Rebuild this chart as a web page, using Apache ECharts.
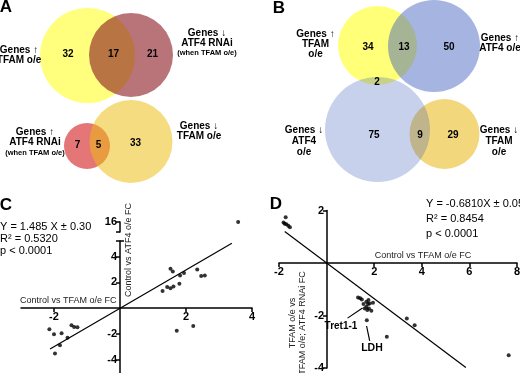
<!DOCTYPE html>
<html>
<head>
<meta charset="utf-8">
<script src="https://cdn.jsdelivr.net/npm/echarts@6/dist/echarts.min.js"></script>
<style>
  html, body { margin: 0; padding: 0; background: #fff; }
  #app { width: 520px; height: 373px; }
</style>
</head>
<body>
<div id="app"></div>
<script>
// Venn counts: [left only, overlap, right only]
const vennATop = [32, 17, 21];
const vennABottom = [7, 5, 33];
const vennBTop = [34, 13, 50];
const vennBBottom = [75, 9, 29];
const vennBCross = [2];

// Panel C: Control vs TFAM o/e FC (x), Control vs ATF4 o/e FC (y)
const cPoints = [
  [-2.14, -1.62], [-2.0, -2.0], [-1.97, -3.49], [-1.82, -2.85], [-1.77, -1.92],
  [-1.59, -2.28], [-1.47, -1.31], [-1.39, -1.44], [-1.29, -1.46],
  [1.29, 1.33], [1.43, 1.64], [1.53, 1.54], [1.62, 1.69], [1.53, 3.05], [1.6, 2.85],
  [1.8, 1.9], [1.82, 2.54], [1.94, 2.72], [2.34, 3.0], [2.46, 2.49], [2.57, 2.54],
  [1.72, -1.74], [2.22, -1.36]
];
const cOutlier = [[3.58, 16]];
const cFit = [[-2.12, -3.15], [3.39, 5.03]];
const cXTicks = [-2, 2, 4];
const cYTicks = [-4, -2, 2, 4];
const cYTopTicks = [16];

// Panel D: Control vs TFAM o/e FC (x), TFAM o/e vs TFAM o/e; ATF4 RNAi FC (y)
const dPoints = [
  [-1.72, 1.74], [-1.81, 1.54], [-1.69, 1.48], [-1.61, 1.42], [-1.54, 1.36], [-1.76, 1.5],
  [1.32, -1.31], [1.41, -1.34], [1.48, -1.39], [1.55, -1.56], [1.67, -1.48], [1.76, -1.41],
  [1.74, -1.56], [1.81, -1.54], [1.67, -1.67], [1.6, -1.73], [1.78, -1.73], [1.88, -1.82],
  [1.95, -1.51], [1.71, -1.79], [1.69, -2.18],
  [3.37, -2.11], [3.7, -2.37], [2.53, -2.81], [7.65, -3.51]
];
const dFit = [[-1.76, 1.2], [5.85, -3.98]];
const dXTicks = [-2, 2, 4, 6, 8];
const dYTicks = [-4, -2, 2];
const tretArrow = [[0.88, -2.1], [1.51, -1.71]];
const ldhArrow = [[1.81, -2.97], [1.68, -2.4]];

const FONT = "'Liberation Sans', Arial, sans-serif";

// axes are pulled into the plot with a negative offset so they cross at zero
function axisStyle(ticks, labels, offset) {
  return {
    offset: offset,
    axisLine: { onZero: false, lineStyle: { color: "#000", width: 1.5 } },
    axisTick: { show: true, length: 4, customValues: ticks, lineStyle: { color: "#000", width: 1.5 } },
    axisLabel: { show: labels.length > 0, customValues: labels, color: "#000", fontWeight: "bold", fontSize: 11, fontFamily: FONT, margin: 3 },
    splitLine: { show: false }
  };
}

function txt(x, y, text, size, opts) {
  return {
    type: "text", x: x, y: y, z: 10,
    rotation: (opts && opts.rotation) || 0,
    style: Object.assign({
      text: text, fill: "#000", font: "bold " + size + "px " + FONT,
      textAlign: "center", textVerticalAlign: "middle"
    }, (opts && opts.style) || {})
  };
}

function circle(cx, cy, r, fill) {
  return { type: "circle", shape: { cx: cx, cy: cy, r: r }, style: { fill: fill }, z: 1 };
}

const plain = (size, extra) => ({ style: Object.assign({ font: size + "px " + FONT, textAlign: "left" }, extra || {}) });

const graphics = [
  // panel letters
  txt(6, 7, "A", 17), txt(279, 8, "B", 17), txt(6, 205, "C", 17), txt(276, 204, "D", 17),

  // Venn A top
  circle(87.5, 55.5, 47.5, "#ffff7d"),
  circle(131, 55, 42, "rgba(135,15,25,0.58)"),
  txt(68, 54, String(vennATop[0]), 10), txt(113.5, 54, String(vennATop[1]), 10), txt(152.5, 54, String(vennATop[2]), 10),
  txt(19, 50, "Genes \u2191", 10), txt(19, 60, "TFAM o/e", 10),
  txt(207, 33, "Genes \u2193", 10), txt(207, 43, "ATF4 RNAi", 10), txt(207, 52.5, "(when TFAM o/e)", 7.5),

  // Venn A bottom
  circle(87, 146, 23, "#e47678"),
  circle(131, 141.5, 41.5, "rgba(236,189,15,0.53)"),
  txt(77.5, 145.5, String(vennABottom[0]), 10), txt(98.5, 145.5, String(vennABottom[1]), 10), txt(135.5, 143, String(vennABottom[2]), 10),
  txt(35, 132.5, "Genes \u2191", 10), txt(35, 142.5, "ATF4 RNAi", 10), txt(35, 152.5, "(when TFAM o/e)", 7.5),
  txt(199, 126, "Genes \u2193", 10), txt(199, 136, "TFAM o/e", 10),

  // Venn B
  circle(444.5, 134, 35, "#f3d77c"),
  circle(377.5, 45.5, 39.5, "#ffff78"),
  circle(377.5, 129.5, 52.5, "rgba(50,84,186,0.27)"),
  circle(434, 46, 46, "rgba(50,84,186,0.44)"),
  txt(368, 47, String(vennBTop[0]), 10), txt(404, 47, String(vennBTop[1]), 10), txt(449, 47, String(vennBTop[2]), 10),
  txt(377, 82, String(vennBCross[0]), 10),
  txt(374, 135, String(vennBBottom[0]), 10), txt(420, 135, String(vennBBottom[1]), 10), txt(453, 135, String(vennBBottom[2]), 10),
  txt(315.5, 34, "Genes \u2191", 10), txt(315.5, 44, "TFAM", 10), txt(315.5, 54, "o/e", 10),
  txt(500, 38, "Genes \u2191", 10), txt(500, 48, "ATF4 o/e", 10),
  txt(304, 130, "Genes \u2193", 10), txt(304, 141, "ATF4", 10), txt(304, 152, "o/e", 10),
  txt(499, 130, "Genes \u2193", 10), txt(499, 141, "TFAM", 10), txt(499, 152, "o/e", 10),

  // Panel C texts
  txt(0, 226.5, "Y = 1.485 X \u00b1 0.30", 11, plain(11)),
  txt(0, 239, "R\u00b2 = 0.5320", 11, plain(11)),
  txt(0, 251, "p < 0.0001", 11, plain(11)),
  txt(20, 301, "Control vs TFAM o/e FC", 9, plain(9, { fill: "#222" })),
  txt(129, 250, "Control vs ATF4 o/e FC", 9, { rotation: Math.PI / 2, style: { font: "9px " + FONT, fill: "#222" } }),
  // right half of the cap at the top of the broken y axis
  { type: "line", z: 10, shape: { x1: 120, y1: 241, x2: 124, y2: 241 }, style: { stroke: "#000", lineWidth: 1.5 } },

  // Panel D texts
  txt(426, 204, "Y = -0.6810X \u00b1 0.05", 11, plain(11)),
  txt(426, 219, "R\u00b2 = 0.8454", 11, plain(11)),
  txt(426, 234, "p < 0.0001", 11, plain(11)),
  txt(423, 256, "Control vs TFAM o/e FC", 9, { style: { font: "9px " + FONT, fill: "#222" } }),
  txt(298, 323, "TFAM o/e vs\nTFAM o/e; ATF4 RNAi FC", 9, { rotation: Math.PI / 2, style: { font: "9px " + FONT, fill: "#222", lineHeight: 10 } }),
  txt(341, 326, "Tret1-1", 10),
  txt(372, 348, "LDH", 10.5)
];

const chart = echarts.init(document.getElementById("app"), null, { renderer: "canvas" });

const dot = { type: "scatter", symbolSize: 4, itemStyle: { color: "#000" }, clip: false, silent: true };
const fitLine = { type: "line", symbol: "none", lineStyle: { color: "#000", width: 1.2 }, silent: true };

function arrow(pts) {
  return [{ coord: pts[0] }, { coord: pts[1] }];
}

chart.setOption({
  animation: false,
  backgroundColor: "#fff",
  textStyle: { fontFamily: FONT },
  grid: [
    { left: 21, width: 231, top: 241, height: 132, outerBoundsMode: "none" },
    { left: 21, width: 231, top: 222, height: 10, outerBoundsMode: "none" },
    { left: 279, width: 238, top: 210.5, height: 157.5, outerBoundsMode: "none" }
  ],
  xAxis: [
    Object.assign({ type: "value", gridIndex: 0, min: -3, max: 4, position: "bottom" }, axisStyle(cXTicks, cXTicks, -65)),
    { type: "value", gridIndex: 1, min: -3, max: 4, show: false, axisLine: { onZero: false } },
    Object.assign({ type: "value", gridIndex: 2, min: -2, max: 8, position: "bottom" }, axisStyle(dXTicks, dXTicks, -105))
  ],
  yAxis: [
    Object.assign({ type: "value", gridIndex: 0, min: -5, max: 5.2, position: "left" }, axisStyle(cYTicks.concat([5.2]), cYTicks, -99)),
    Object.assign({ type: "value", gridIndex: 1, min: 15.2, max: 16, position: "left" }, axisStyle(cYTopTicks.concat([15.2]), cYTopTicks, -99)),
    Object.assign({ type: "value", gridIndex: 2, min: -4, max: 2, position: "left" }, axisStyle(dYTicks.concat([2]), dYTicks, -48))
  ],
  series: [
    Object.assign({}, fitLine, { xAxisIndex: 0, yAxisIndex: 0, data: cFit }),
    Object.assign({}, dot, { xAxisIndex: 0, yAxisIndex: 0, data: cPoints }),
    Object.assign({}, dot, { xAxisIndex: 1, yAxisIndex: 1, data: cOutlier }),
    Object.assign({}, fitLine, {
      xAxisIndex: 2, yAxisIndex: 2, data: dFit,
      markLine: {
        silent: true, symbol: ["none", "arrow"], symbolSize: [0, 7],
        lineStyle: { color: "#000", width: 1.2, type: "solid" },
        label: { show: false },
        data: [arrow(tretArrow), arrow(ldhArrow)]
      }
    }),
    Object.assign({}, dot, { xAxisIndex: 2, yAxisIndex: 2, data: dPoints })
  ],
  graphic: graphics
});
</script>
</body>
</html>
